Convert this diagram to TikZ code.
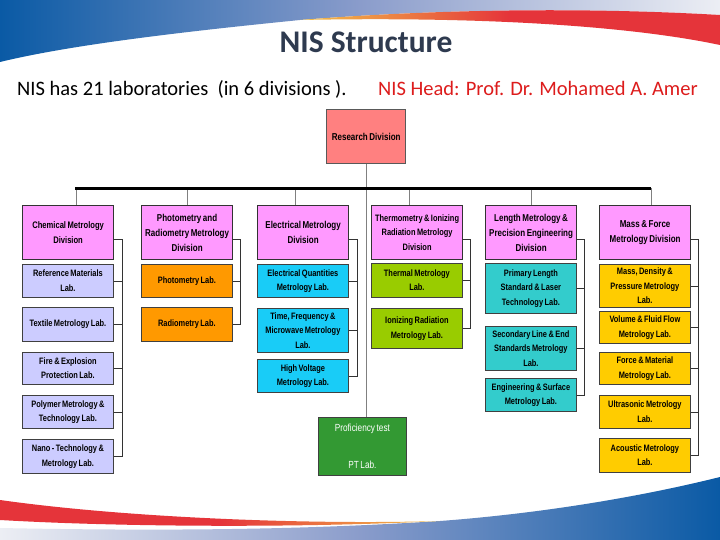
\documentclass[tikz,border=0pt]{standalone}
\usepackage{fontspec}
\setmainfont{Carlito}
\newfontfamily\narrowfont[FakeStretch=0.8,WordSpace=0.7]{Liberation Sans}
\definecolor{swblue}{HTML}{0A5AA5}
\definecolor{swmid}{HTML}{8A9CCB}
\definecolor{swlight}{HTML}{ECEEF4}
\definecolor{swred}{HTML}{E5343A}
\definecolor{swgold}{HTML}{F2C24A}
\definecolor{titlegray}{HTML}{2E3A4F}
\definecolor{headred}{HTML}{DD1C1C}
\definecolor{resred}{HTML}{FF8080}
\definecolor{divpink}{HTML}{FF99FF}
\definecolor{labblue}{HTML}{CCCCFF}
\definecolor{laborange}{HTML}{FF9900}
\definecolor{labcyan}{HTML}{19CCF7}
\definecolor{labgreen}{HTML}{99CC00}
\definecolor{labteal}{HTML}{33CCCC}
\definecolor{labgold}{HTML}{FFCC00}
\definecolor{ptgreen}{HTML}{339933}

\begin{document}
\begin{tikzpicture}[x=1pt,y=-1pt,
  box/.style={draw=black!75, line width=0.8pt, anchor=north west, align=center,
    minimum width=91pt, inner sep=1.5pt},
  divbox/.style={box, fill=divpink, draw=black!80, line width=1.2pt, minimum height=54pt,
    font=\narrowfont\bfseries\fontsize{10}{15}\selectfont},
  labbox/.style={box, font=\narrowfont\bfseries\fontsize{9.3}{14.5}\selectfont},
  link/.style={black!80, line width=0.8pt},
  drop/.style={gray, line width=0.8pt}]
\useasboundingbox (0,0) rectangle (720,540);
\fill[white] (0,0) rectangle (720,540);

% swooshes
\shade[left color=swblue, right color=swlight, middle color=swmid]
  (0,0) -- (720,0) -- (720,15) .. controls (600,8) and (450,8) .. (300,20)
  .. controls (180,32) and (70,45) .. (0,62) -- cycle;
\shade[left color=swgold, right color=swred, middle color=swred]
  (300,20) .. controls (450,8) and (600,8) .. (720,15) -- (720,45)
  .. controls (640,28) and (500,16) .. (300,20) -- cycle;
\shade[left color=swlight, right color=swblue, middle color=swmid]
  (0,540) -- (0,528) .. controls (200,532) and (330,528) .. (440,521)
  .. controls (560,512) and (660,492) .. (720,477) -- (720,540) -- cycle;
\shade[left color=swred, right color=swgold, middle color=swred]
  (0,500) .. controls (120,517) and (300,525) .. (440,521)
  .. controls (300,528) and (120,527) .. (0,520) -- cycle;

\node[anchor=base, text=titlegray, font=\bfseries\fontsize{31.5}{36}\selectfont] (title) at (366,53) {NIS Structure};
\node[anchor=base west, inner sep=0pt, font=\fontsize{20.5}{24}\selectfont] (count) at (17,96) {NIS has 21 laboratories\ \ (in 6 divisions ).};
\node[anchor=base west, inner sep=0pt, text=headred, font=\fontsize{20.5}{24}\selectfont] (head) at (378,96) {NIS Head: Prof. Dr. Mohamed A. Amer};

\node[box, fill=resred, draw=black!65, line width=1.4pt, minimum width=79pt, minimum height=54pt,
  font=\narrowfont\bfseries\fontsize{10}{15}\selectfont] (research) at (326,109) {Research Division};

\node[divbox, font=\narrowfont\bfseries\fontsize{9.5}{15}\selectfont] (chem) at (22,205) {Chemical Metrology\\Division};
\node[labbox, fill=labblue, minimum height=33pt] (refmat) at (22,264) {Reference Materials\\Lab.};
\node[labbox, fill=labblue, minimum height=34pt] (textile) at (22,307) {Textile Metrology Lab.};
\node[labbox, fill=labblue, minimum height=32pt] (fire) at (22,352) {Fire \& Explosion\\Protection Lab.};
\node[labbox, fill=labblue, minimum height=33pt] (polymer) at (22,395) {Polymer Metrology \&\\Technology Lab.};
\node[labbox, fill=labblue, minimum height=34pt] (nano) at (22,439) {Nano - Technology \&\\Metrology Lab.};

\node[divbox] (photo) at (141,205) {Photometry and\\Radiometry Metrology\\Division};
\node[labbox, fill=laborange, minimum height=33pt] (photometry) at (141,264) {Photometry Lab.};
\node[labbox, fill=laborange, minimum height=34pt] (radiometry) at (141,307) {Radiometry Lab.};

\node[divbox] (elec) at (257,205) {Electrical Metrology\\Division};
\node[labbox, fill=labcyan, minimum height=33pt] (quantities) at (257,264) {Electrical Quantities\\Metrology Lab.};
\node[labbox, fill=labcyan, minimum height=44pt] (time) at (257,308) {Time, Frequency \&\\Microwave Metrology\\Lab.};
\node[labbox, fill=labcyan, minimum height=33pt] (voltage) at (257,359) {High Voltage\\Metrology Lab.};

\node[divbox, font=\narrowfont\bfseries\fontsize{9.3}{14.2}\selectfont] (thermo) at (371,205) {Thermometry \& Ionizing\\Radiation Metrology\\Division};
\node[labbox, fill=labgreen, minimum height=34pt] (thermal) at (371,263) {Thermal Metrology\\Lab.};
\node[labbox, fill=labgreen, minimum height=40pt] (ionizing) at (371,308) {Ionizing Radiation\\Metrology Lab.};

\node[divbox] (length) at (485,205) {Length Metrology \&\\Precision Engineering\\Division};
\node[labbox, fill=labteal, minimum height=50pt] (primary) at (485,263) {Primary Length\\Standard \& Laser\\Technology Lab.};
\node[labbox, fill=labteal, minimum height=44pt] (secondary) at (485,326) {Secondary Line \& End\\Standards Metrology\\Lab.};
\node[labbox, fill=labteal, minimum height=33pt] (surface) at (485,378) {Engineering \& Surface\\Metrology Lab.};

\node[divbox] (mass) at (599,205) {Mass \& Force\\Metrology Division};
\node[labbox, fill=labgold, minimum height=43pt] (density) at (599,264) {Mass, Density \&\\Pressure Metrology\\Lab.};
\node[labbox, fill=labgold, minimum height=32pt] (volume) at (599,311) {Volume \& Fluid Flow\\Metrology Lab.};
\node[labbox, fill=labgold, minimum height=32pt] (force) at (599,352) {Force \& Material\\Metrology Lab.};
\node[labbox, fill=labgold, minimum height=33pt] (ultrasonic) at (599,395) {Ultrasonic Metrology\\Lab.};
\node[labbox, fill=labgold, minimum height=34pt] (acoustic) at (599,438) {Acoustic Metrology\\Lab.};

\node[box, fill=ptgreen, draw=black!75, text=white, minimum width=88pt, minimum height=58pt,
  font=\narrowfont\fontsize{10.3}{15}\selectfont] (pt) at (318,417) {Proficiency test\\[22pt]PT Lab.};

\coordinate (busL) at (75,188.5);
\coordinate (busR) at (651,188.5);
\draw[drop] (research.south) -- (research.south |- pt.north);
\foreach \d/\o in {chem/8,photo/0,elec/-8,thermo/-8,length/0,mass/6}
  \draw[drop] ([xshift=\o pt]\d.north) -- ([xshift=\o pt]\d.north |- busL);
\draw[line width=2.2pt] (busL) -- (busR);

\draw[link] ([yshift=-7pt]chem.east) -- ++(8,0) coordinate (chemR) |- (nano.east);
\foreach \l in {refmat,textile,fire,polymer}
  \draw[link] (\l.east) -- (\l.east -| chemR);
\draw[link] ([yshift=-7pt]photo.east) -- ++(7,0) coordinate (photoR) |- (radiometry.east);
\draw[link] (photometry.east) -- (photometry.east -| photoR);
\draw[link] ([yshift=-7pt]elec.east) -- ++(8,0) coordinate (elecR) |- (voltage.east);
\foreach \l in {quantities,time}
  \draw[link] (\l.east) -- (\l.east -| elecR);
\draw[link] ([yshift=-7pt]thermo.east) -- ++(7,0) coordinate (thermoR) |- (ionizing.east);
\draw[link] (thermal.east) -- (thermal.east -| thermoR);
\draw[link] ([yshift=-7pt]length.east) -- ++(7,0) coordinate (lengthR) |- (surface.east);
\foreach \l in {primary,secondary}
  \draw[link] (\l.east) -- (\l.east -| lengthR);
\draw[link] ([yshift=-7pt]mass.east) -- ++(7,0) coordinate (massR) |- (acoustic.east);
\foreach \l in {density,volume,force,ultrasonic}
  \draw[link] (\l.east) -- (\l.east -| massR);
\end{tikzpicture}
\end{document}
